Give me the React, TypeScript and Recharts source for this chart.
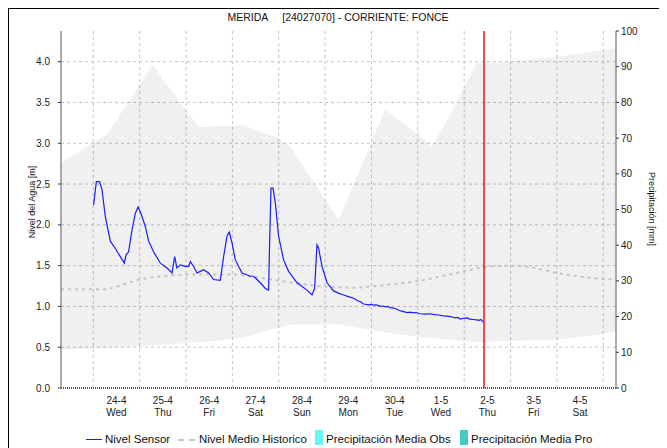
import React from 'react';
import { ComposedChart, Line, Area, XAxis, YAxis, CartesianGrid, ReferenceLine } from 'recharts';

const FONT = '"Liberation Sans", Arial, sans-serif';

// ---- axes / categories ----
const dayLabels = ['24-4', '25-4', '26-4', '27-4', '28-4', '29-4', '30-4', '1-5', '2-5', '3-5', '4-5'];
const weekDays = ['Wed', 'Thu', 'Fri', 'Sat', 'Sun', 'Mon', 'Tue', 'Wed', 'Thu', 'Fri', 'Sat'];
const labelTicks = [0.5, 1.5, 2.5, 3.5, 4.5, 5.5, 6.5, 7.5, 8.5, 9.5, 10.5];
const gridDays = [0, 1, 2, 3, 4, 5, 6, 7, 8, 9, 10, 11];
const levelTicks = [0, 0.5, 1, 1.5, 2, 2.5, 3, 3.5, 4];
const precipTicks = [0, 10, 20, 30, 40, 50, 60, 70, 80, 90, 100];
const T_MIN = -0.697;
const T_MAX = 11.275;
const LEVEL_MAX = 4.376;
const nowT = 8.428;

// ---- Nivel Sensor (days since 24-4 00:00, metres) ----
const sensorT = [
  0.006, 0.065, 0.136, 0.188, 0.259, 0.367, 0.475, 0.582, 0.669, 0.705, 0.761, 0.835, 0.906, 0.964,
  1.014, 1.122, 1.193, 1.301, 1.445, 1.59, 1.698, 1.754, 1.805, 1.877, 1.984, 2.056, 2.092, 2.164,
  2.237, 2.308, 2.379, 2.487, 2.595, 2.739, 2.811, 2.884, 2.934, 2.992, 3.063, 3.208, 3.387, 3.458,
  3.602, 3.71, 3.781, 3.803, 3.833, 3.876, 3.926, 3.997, 4.105, 4.213, 4.394, 4.61, 4.717, 4.774,
  4.825, 4.86, 4.933, 5.041, 5.183, 5.3, 5.4, 5.5, 5.615, 5.7, 5.759, 5.83, 5.95, 6.0, 6.05, 6.1,
  6.15, 6.19, 6.25, 6.3, 6.35, 6.4, 6.48, 6.55, 6.6, 6.67, 6.77, 6.85, 6.9, 6.96, 7.05, 7.15, 7.27,
  7.35, 7.45, 7.55, 7.63, 7.7, 7.75, 7.8, 7.85, 7.92, 7.98, 8.06, 8.12, 8.2, 8.26, 8.32, 8.36, 8.406,
];
const sensorLevel = [
  2.245, 2.53, 2.53, 2.43, 2.1, 1.8, 1.71, 1.61, 1.53, 1.63, 1.67, 1.94, 2.14, 2.22,
  2.16, 1.98, 1.8, 1.67, 1.53, 1.47, 1.41, 1.61, 1.47, 1.51, 1.49, 1.49, 1.55, 1.49,
  1.41, 1.43, 1.45, 1.41, 1.33, 1.32, 1.61, 1.86, 1.91, 1.78, 1.57, 1.41, 1.37, 1.37,
  1.29, 1.22, 1.2, 1.78, 2.45, 2.45, 2.27, 1.86, 1.57, 1.43, 1.29, 1.2, 1.14, 1.22,
  1.755, 1.715, 1.49, 1.29, 1.19, 1.16, 1.14, 1.12, 1.1, 1.07, 1.06, 1.03, 1.02, 1.025, 1.015, 1.02,
  1.01, 1.0, 1.005, 0.995, 1.0, 0.985, 0.98, 0.965, 0.95, 0.94, 0.925, 0.93, 0.92, 0.925, 0.91, 0.905, 0.91,
  0.9, 0.895, 0.885, 0.88, 0.875, 0.87, 0.86, 0.865, 0.845, 0.855, 0.86, 0.845, 0.84, 0.835, 0.83, 0.84, 0.81,
];

// ---- Nivel Medio Historico ----
const medioT = [-0.697, 0.302, 0.367, 1.05, 1.553, 2.092, 3.02, 3.602, 4.314, 5.047, 5.695, 5.975, 6.982, 7.987, 8.419, 8.995, 9.426, 10.002, 11.08, 11.275];
const medioLevel = [1.21, 1.21, 1.22, 1.335, 1.375, 1.39, 1.39, 1.35, 1.29, 1.24, 1.23, 1.245, 1.31, 1.43, 1.48, 1.5, 1.48, 1.41, 1.335, 1.33];

// ---- historic range band ----
const bandT = [-0.697, 0.296, 1.279, 2.271, 2.703, 3.242, 3.997, 4.249, 5.22, 5.291, 5.98, 6.299, 6.98, 7.306, 7.701, 8.261, 8.85, 10.0, 10.86, 11.275];
const bandLow = [0.47, 0.49, 0.52, 0.56, 0.58, 0.62, 0.74, 0.775, 0.78, 0.78, 0.71, 0.68, 0.63, 0.61, 0.59, 0.56, 0.575, 0.59, 0.65, 0.69];
const bandHigh = [2.76, 3.11, 3.96, 3.2, 3.21, 3.22, 3.06, 2.96, 2.12, 2.06, 2.99, 3.42, 3.11, 2.96, 3.35, 3.98, 3.99, 4.06, 4.13, 4.16];

const sensorData = sensorT.map((t, i) => ({ t, v: sensorLevel[i] }));
const medioData = medioT.map((t, i) => ({ t, v: medioLevel[i] }));
const bandData = bandT.map((t, i) => ({ t, band: [bandLow[i], bandHigh[i]] }));

const fmtLevel = (v: number) => v.toFixed(1);

const DayTick = (props: any) => {
  const { x, y, payload } = props;
  const i = labelTicks.indexOf(payload.value);
  return (
    <g>
      <text x={x} y={y + 16} textAnchor="middle" fontSize={10} fontFamily={FONT} fill="#222">{dayLabels[i]}</text>
      <text x={x} y={y + 27.7} textAnchor="middle" fontSize={10} fontFamily={FONT} fill="#222">{weekDays[i]}</text>
    </g>
  );
};

const GRID = '#c4c4c4';

export default function App() {
  return (
    <div style={{ position: 'relative', width: 659, height: 440, fontFamily: FONT }}>
      <div style={{ position: 'absolute', left: -1.5, top: -1.5, width: 661, height: 2.5, background: '#000', zIndex: 5 }} />
      <div style={{ position: 'absolute', left: -1.5, top: -1.5, width: 2.5, height: 442, background: '#000', zIndex: 5 }} />
      <div style={{ position: 'absolute', left: 0, width: 660, top: 3, textAlign: 'center', fontSize: 10.5, color: '#111', whiteSpace: 'pre', lineHeight: '12px' }}>
        {'MERIDA     [24027070] - CORRIENTE: FONCE'}
      </div>
      <div style={{ position: 'absolute', left: 24 - 60, top: 193.5 - 6, width: 120, textAlign: 'center', fontSize: 9, lineHeight: '12px', transform: 'rotate(-90deg)', color: '#111' }}>
        Nivel del Agua [m]
      </div>
      <div style={{ position: 'absolute', left: 644 - 60, top: 201 - 6, width: 120, textAlign: 'center', fontSize: 9, lineHeight: '12px', transform: 'rotate(90deg)', color: '#111' }}>
        Precipitación [mm]
      </div>
      <ComposedChart width={659} height={440} data={sensorData} margin={{ top: 23, right: 0, bottom: 0, left: 0 }}>
        <XAxis
          xAxisId="x"
          type="number"
          dataKey="t"
          domain={[T_MIN, T_MAX]}
          allowDataOverflow
          ticks={labelTicks}
          interval={0}
          tick={<DayTick />}
          tickLine={false}
          tickSize={0}
          tickMargin={0}
          height={60}
          axisLine={{ stroke: '#555', strokeWidth: 2, strokeDasharray: '1 1' }}
        />
        <XAxis xAxisId="g" type="number" orientation="top" dataKey="t" domain={[T_MIN, T_MAX]} allowDataOverflow ticks={gridDays} interval={0} height={0} hide />
        <XAxis xAxisId="top" type="number" orientation="top" domain={[T_MIN, T_MAX]} allowDataOverflow ticks={[]} height={0} tick={false} tickLine={false} axisLine={{ stroke: '#909090', strokeWidth: 1.5 }} />
        <YAxis
          yAxisId="l"
          domain={[0, LEVEL_MAX]}
          allowDataOverflow
          ticks={levelTicks}
          interval={0}
          tickFormatter={fmtLevel}
          width={53}
          tickSize={3}
          tickMargin={8}
          tick={{ fontSize: 10, fontFamily: FONT, fill: '#222' }}
          tickLine={{ stroke: '#333' }}
          axisLine={{ stroke: '#909090', strokeWidth: 1.5 }}
        />
        <YAxis
          yAxisId="r"
          orientation="right"
          domain={[0, 100]}
          allowDataOverflow
          ticks={precipTicks}
          interval={0}
          width={51}
          tickSize={3}
          tickMargin={2}
          tick={{ fontSize: 10, fontFamily: FONT, fill: '#222', textAnchor: 'start' }}
          tickLine={{ stroke: '#333' }}
          axisLine={{ stroke: '#909090', strokeWidth: 1.5 }}
        />
        <Area
          xAxisId="x"
          yAxisId="l"
          data={bandData}
          dataKey="band"
          type="linear"
          stroke="none"
          fill="#000"
          fillOpacity={0.06}
          isAnimationActive={false}
          dot={false}
          activeDot={false}
        />
        <CartesianGrid xAxisId="g" yAxisId="l" stroke={GRID} strokeDasharray="3 3" horizontalValues={levelTicks.slice(1)} verticalValues={gridDays} />
        <Line
          xAxisId="x"
          yAxisId="l"
          data={medioData}
          dataKey="v"
          type="monotone"
          stroke="#c4c4c4"
          strokeWidth={2}
          strokeDasharray="3 4"
          dot={false}
          activeDot={false}
          isAnimationActive={false}
        />
        <Line
          xAxisId="x"
          yAxisId="l"
          data={sensorData}
          dataKey="v"
          type="linear"
          stroke="#1a1aff"
          strokeWidth={1.2}
          dot={false}
          activeDot={false}
          isAnimationActive={false}
        />
        <ReferenceLine xAxisId="x" yAxisId="l" x={nowT} stroke="#e01818" strokeWidth={1.5} />
      </ComposedChart>
      <div style={{ position: 'absolute', left: 0, top: 424, width: 659, height: 16, fontSize: 11.5, color: '#111' }}>
        <div style={{ position: 'absolute', left: 78, top: 7, width: 16, height: 0, borderTop: '1.5px solid #1a1aff' }} />
        <div style={{ position: 'absolute', left: 97, top: 0, lineHeight: '14px', whiteSpace: 'nowrap' }}>Nivel Sensor</div>
        <div style={{ position: 'absolute', left: 170, top: 7, width: 17, height: 0, borderTop: '2px dashed #c8c8c8' }} />
        <div style={{ position: 'absolute', left: 191, top: 0, lineHeight: '14px', whiteSpace: 'nowrap' }}>Nivel Medio Historico</div>
        <div style={{ position: 'absolute', left: 307, top: -2, width: 8, height: 15, background: '#66f6f6' }} />
        <div style={{ position: 'absolute', left: 318, top: 0, lineHeight: '14px', whiteSpace: 'nowrap' }}>Precipitación Media Obs</div>
        <div style={{ position: 'absolute', left: 452, top: -2, width: 8, height: 15, background: '#44c8c8' }} />
        <div style={{ position: 'absolute', left: 463, top: 0, lineHeight: '14px', whiteSpace: 'nowrap' }}>Precipitación Media Pro</div>
      </div>
    </div>
  );
}
